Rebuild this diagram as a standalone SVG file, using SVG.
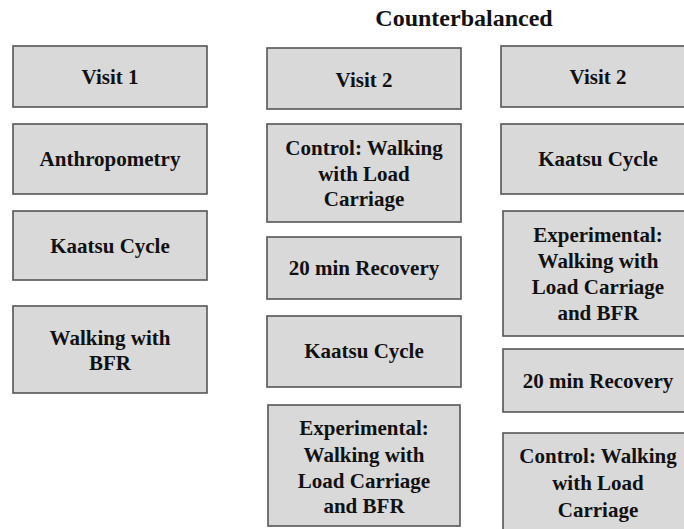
<svg xmlns="http://www.w3.org/2000/svg" width="684" height="529" viewBox="0 0 684 529">
<style>
.box{fill:#d9d9d9;stroke:#555555;stroke-width:1.6}
.t{font-family:"Liberation Serif","Times New Roman",serif;font-weight:bold;font-size:21px;fill:#111111;text-anchor:middle}
.title{font-family:"Liberation Serif","Times New Roman",serif;font-weight:bold;font-size:24px;fill:#111111;text-anchor:middle}
</style>
<rect width="684" height="529" fill="#ffffff"/>
<text class="title" x="464" y="26">Counterbalanced</text>
<g id="connectors"/>
<g id="c1-visit1"><rect class="box" x="13" y="46" width="194" height="61"/><text class="t" x="110" y="84">Visit 1</text></g>
<g id="c1-anthro"><rect class="box" x="13" y="124" width="194" height="70"/><text class="t" x="110" y="166">Anthropometry</text></g>
<g id="c1-kaatsu"><rect class="box" x="13" y="211" width="194" height="69"/><text class="t" x="110" y="253">Kaatsu Cycle</text></g>
<g id="c1-walk"><rect class="box" x="13" y="306" width="194" height="87"/><text class="t" x="110" y="345">Walking with</text><text class="t" x="110" y="370">BFR</text></g>
<g id="c2-visit2"><rect class="box" x="267" y="48" width="194" height="61"/><text class="t" x="364" y="87">Visit 2</text></g>
<g id="c2-control"><rect class="box" x="267" y="124" width="194" height="98"/><text class="t" x="364" y="155">Control: Walking</text><text class="t" x="364" y="181">with Load</text><text class="t" x="364" y="206">Carriage</text></g>
<g id="c2-recovery"><rect class="box" x="267" y="237" width="194" height="62"/><text class="t" x="364" y="275">20 min Recovery</text></g>
<g id="c2-kaatsu"><rect class="box" x="267" y="316" width="194" height="71"/><text class="t" x="364" y="358">Kaatsu Cycle</text></g>
<g id="c2-experimental"><rect class="box" x="268" y="405" width="192" height="121"/><text class="t" x="364" y="435">Experimental:</text><text class="t" x="364" y="462">Walking with</text><text class="t" x="364" y="488">Load Carriage</text><text class="t" x="364" y="513">and BFR</text></g>
<g id="c3-visit2"><rect class="box" x="501" y="46" width="194" height="61"/><text class="t" x="598" y="84">Visit 2</text></g>
<g id="c3-kaatsu"><rect class="box" x="501" y="124" width="194" height="70"/><text class="t" x="598" y="166">Kaatsu Cycle</text></g>
<g id="c3-experimental"><rect class="box" x="503" y="211" width="192" height="125"/><text class="t" x="598" y="242">Experimental:</text><text class="t" x="598" y="268">Walking with</text><text class="t" x="598" y="294">Load Carriage</text><text class="t" x="598" y="320">and BFR</text></g>
<g id="c3-recovery"><rect class="box" x="503" y="349" width="192" height="63"/><text class="t" x="598" y="388">20 min Recovery</text></g>
<g id="c3-control"><rect class="box" x="503" y="433" width="192" height="110"/><text class="t" x="598" y="463">Control: Walking</text><text class="t" x="598" y="490">with Load</text><text class="t" x="598" y="517">Carriage</text></g>
</svg>
